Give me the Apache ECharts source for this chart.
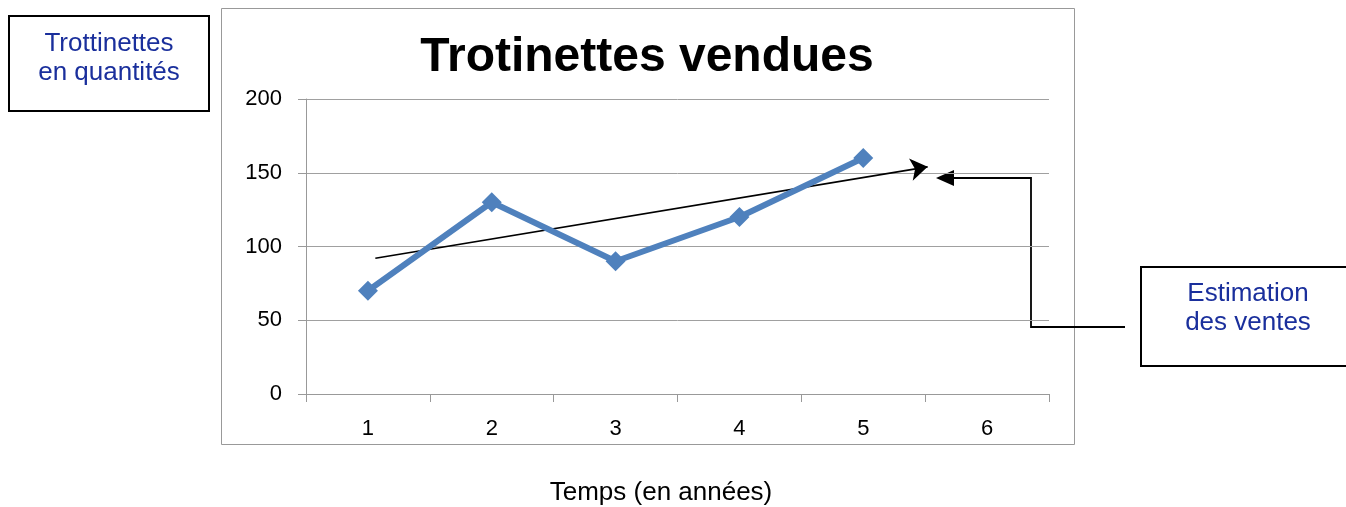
<!DOCTYPE html>
<html><head><meta charset="utf-8">
<script src="https://cdn.jsdelivr.net/npm/echarts@6/dist/echarts.min.js"></script>
<style>html,body{margin:0;padding:0;background:#fff}#c{width:1346px;height:507px}</style>
</head><body><div id="c"></div>
<script>
const categories = ['1','2','3','4','5','6'];
const ventes = [70,130,90,120,160,null];
const yTicks = [0,50,100,150,200];
const trendStart = [0.06, 92];
const trendEnd = [4.52, 154];
const titleText = 'Trotinettes vendues';
const xName = 'Temps (en années)';
const yName = 'Trottinettes\nen quantités';
const noteText = 'Estimation\ndes ventes';

const chart = echarts.init(document.getElementById('c'), null, {renderer:'canvas'});
const labelFont = 'Liberation Sans';
chart.setOption({
  animation:false,
  backgroundColor:'#fff',
  title:{text:titleText,left:642,top:29,textAlign:'center',
    textStyle:{fontFamily:'Liberation Sans',fontWeight:'bold',fontSize:48,color:'#000'}},
  grid:{left:306,right:297,top:99,bottom:113},
  xAxis:[{type:'category',data:categories,boundaryGap:true,
    axisLine:{lineStyle:{color:'#999',width:1}},
    axisTick:{show:true,length:8,lineStyle:{color:'#999'}},
    axisLabel:{margin:24,fontFamily:labelFont,fontSize:22,color:'#000'}},
    {type:'value',min:-0.5,max:5.5,show:false}],
  yAxis:{type:'value',min:0,max:200,interval:50,
    axisLine:{show:true,onZero:false,lineStyle:{color:'#999'}},
    axisTick:{show:true,length:8,lineStyle:{color:'#999'}},
    axisLabel:{margin:24,fontFamily:labelFont,fontSize:22,color:'#000'},
    splitLine:{lineStyle:{color:'#a0a0a0',width:1}}},
  series:[{type:'line',data:ventes,symbol:'diamond',symbolSize:20,
    lineStyle:{color:'#4F81BD',width:6},itemStyle:{color:'#4F81BD'}},
    {type:'lines',coordinateSystem:'cartesian2d',xAxisIndex:1,yAxisIndex:0,silent:true,
     symbol:['none','arrow'],symbolSize:[13,17],
     lineStyle:{color:'#000',width:1.6,opacity:1,curveness:0},
     data:[{coords:[trendStart,trendEnd]}]}],
  graphic:[
    {type:'rect',shape:{x:221.5,y:8.5,width:853,height:436},style:{fill:'none',stroke:'#999',lineWidth:1},z:-1},
    {type:'rect',shape:{x:9,y:16,width:200,height:95},style:{fill:'#fff',stroke:'#000',lineWidth:2}},
    {type:'text',x:109,y:58,style:{text:yName,fontFamily:'Liberation Sans',fontSize:26,fill:'#1a2f9c',align:'center',verticalAlign:'middle',lineHeight:29}},
    {type:'rect',shape:{x:1141,y:267,width:215,height:99},style:{fill:'#fff',stroke:'#000',lineWidth:2}},
    {type:'text',x:1248,y:308,style:{text:noteText,fontFamily:'Liberation Sans',fontSize:26,fill:'#1a2f9c',align:'center',verticalAlign:'middle',lineHeight:29}},
    {type:'polyline',shape:{points:[[1125,327],[1031,327],[1031,178],[948,178]]},style:{fill:'none',stroke:'#000',lineWidth:1.8}},
    {type:'polygon',shape:{points:[[936,178],[954,170],[954,186]]},style:{fill:'#000'}},
    {type:'text',x:661,y:493,style:{text:xName,fontFamily:'Liberation Sans',fontSize:26,fill:'#000',align:'center',verticalAlign:'middle'}}
  ]
});
</script></body></html>
